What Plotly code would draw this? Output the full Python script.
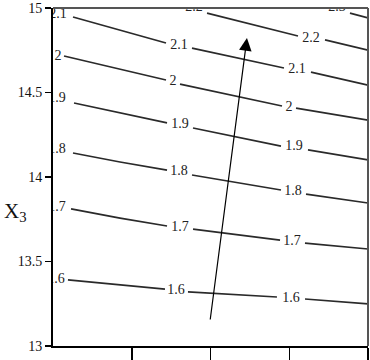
import plotly.graph_objects as go

# ---- data ----
levels = ["1.6", "1.7", "1.8", "1.9", "2", "2.1", "2.2", "2.3"]

# contour line vertices (x, X3), None = gap left for a label
c16_x = [0.19, 0.851, 1.422, None, 1.714, 2.844, None, 3.2, 4.0]
c16_y = [13.391, 13.361, 13.337, None, 13.320, 13.290, None, 13.278, 13.249]
c17_x = [0.229, 0.851, 1.448, None, 1.778, 2.883, None, 3.2, 4.0]
c17_y = [13.811, 13.757, 13.710, None, 13.692, 13.627, None, 13.609, 13.574]
c18_x = [0.254, 0.851, 1.448, None, 1.765, 2.895, None, 3.213, 4.0]
c18_y = [14.142, 14.089, 14.041, None, 14.012, 13.923, None, 13.899, 13.846]
c19_x = [0.267, 1.448, None, 1.778, 2.895, None, 3.238, 4.0]
c19_y = [14.438, 14.320, None, 14.290, 14.183, None, 14.160, 14.101]
c20_x = [0.14, 1.435, None, 1.613, 2.908, None, 3.086, 4.0]
c20_y = [14.716, 14.574, None, 14.550, 14.420, None, 14.408, 14.337]
c21_x = [0.254, 1.435, None, 1.765, 2.933, None, 3.276, 4.0]
c21_y = [14.947, 14.793, None, 14.763, 14.645, None, 14.621, 14.544]
c22_x = [1.956, 3.111, None, 3.454, 4.0]
c22_y = [14.970, 14.834, None, 14.811, 14.751]
c23_x = [3.771, 4.0]
c23_y = [14.970, 14.941]

lines_x = [c16_x, c17_x, c18_x, c19_x, c20_x, c21_x, c22_x, c23_x]
lines_y = [c16_y, c17_y, c18_y, c19_y, c20_y, c21_y, c22_y, c23_y]

# contour labels
lab_text = ["1.6", "1.6", "1.6",
            "1.7", "1.7", "1.7",
            "1.8", "1.8", "1.8",
            "1.9", "1.9", "1.9",
            "2", "2", "2",
            "2.1", "2.1", "2.1",
            "2.2", "2.2",
            "2.3"]
lab_x = [0.038, 1.562, 3.022,
         0.051, 1.613, 3.035,
         0.051, 1.600, 3.048,
         0.051, 1.613, 3.060,
         0.063, 1.524, 2.997,
         0.063, 1.600, 3.098,
         1.790, 3.276,
         3.606]
lab_y = [13.391, 13.331, 13.284,
         13.817, 13.704, 13.621,
         14.160, 14.030, 13.917,
         14.467, 14.308, 14.178,
         14.716, 14.568, 14.414,
         14.959, 14.781, 14.639,
         15.002, 14.822,
         15.006]

# arrow (tail -> head)
arrow_tail = [1.994, 13.148]
arrow_head = [2.463, 14.822]

y_ticks = [13, 13.5, 14, 14.5, 15]
y_ticklabels = ["13", "13.5", "14", "14.5", "15"]
x_ticks = [1, 2, 3, 4]

FONT = "Liberation Serif, Times New Roman, serif"
LINE_COL = "#2a2a2a"

fig = go.Figure()
for lx, ly in zip(lines_x, lines_y):
    fig.add_trace(go.Scatter(x=lx, y=ly, mode="lines",
                             line=dict(color=LINE_COL, width=1.7),
                             hoverinfo="skip", showlegend=False))

fig.add_trace(go.Scatter(x=lab_x, y=lab_y, mode="text", text=lab_text,
                         textposition="middle center",
                         textfont=dict(family=FONT, size=14, color="#222222"),
                         cliponaxis=True, hoverinfo="skip", showlegend=False))

fig.add_annotation(x=arrow_head[0], y=arrow_head[1], xref="x", yref="y",
                   ax=arrow_tail[0], ay=arrow_tail[1], axref="x", ayref="y",
                   showarrow=True, arrowhead=2, arrowsize=2.1, arrowwidth=1.2,
                   arrowcolor="black", text="")

fig.add_annotation(x=-0.162, y=13.79, xref="paper", yref="y",
                   xanchor="left", yanchor="middle", showarrow=False,
                   text="X<sub>3</sub>",
                   font=dict(family=FONT, size=21, color="#111111"))

# top / right frame
fig.add_shape(type="line", xref="paper", yref="paper", x0=0, x1=1, y0=1, y1=1,
              line=dict(color="#555555", width=2))
fig.add_shape(type="line", xref="paper", yref="paper", x0=1, x1=1, y0=0, y1=1,
              line=dict(color="#555555", width=2))

fig.update_layout(
    width=370, height=360,
    margin=dict(l=53, r=2, t=8, b=14),
    font=dict(family=FONT),
    paper_bgcolor="white", plot_bgcolor="white",
    xaxis=dict(range=[0, 4], tickvals=x_ticks, showticklabels=False,
               ticks="outside", ticklen=12, tickwidth=1.5, tickcolor="black",
               showline=True, linecolor="black", linewidth=2,
               showgrid=False, zeroline=False, fixedrange=True),
    yaxis=dict(range=[13, 15], tickvals=y_ticks, ticktext=y_ticklabels,
               ticks="outside", ticklen=6, tickwidth=1.5, tickcolor="black",
               showline=True, linecolor="black", linewidth=2,
               tickfont=dict(family=FONT, size=14, color="#111111"),
               showgrid=False, zeroline=False, fixedrange=True),
)

fig.write_html("out.html",
               config={"displayModeBar": False, "staticPlot": True},
               post_script="document.body.style.margin='0';"
                           "document.body.style.padding='0';"
                           "document.body.style.overflow='hidden';")
